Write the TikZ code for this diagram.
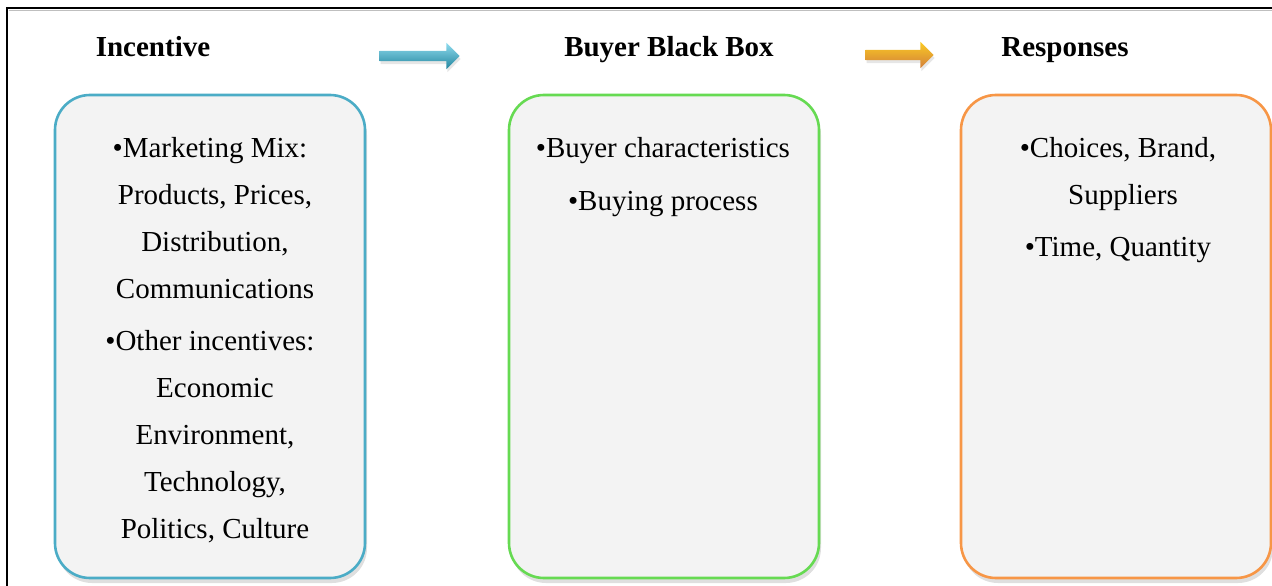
\documentclass[tikz,border=0pt]{standalone}
\usepackage{fontspec}
\setmainfont{Liberation Serif}
\usepackage{tikz}
\usetikzlibrary{shapes.arrows,shadows}

\definecolor{incBlue}{RGB}{75,172,198}
\definecolor{arrBlue}{RGB}{50,190,225}
\definecolor{boxGreen}{RGB}{102,218,82}
\definecolor{resOrange}{RGB}{247,150,70}
\definecolor{boxFill}{RGB}{243,243,243}

\tikzset{
  stagebox/.style={shape=rectangle,rounded corners=35pt,line width=2.6pt,fill=boxFill,
    minimum width=310pt,minimum height=483pt,
    drop shadow={shadow xshift=2pt,shadow yshift=-5pt,opacity=0.25}},
  stagehead/.style={font=\fontsize{29}{35}\selectfont\bfseries,inner sep=0pt,anchor=base},
  stagetext/.style={font=\fontsize{29}{47}\selectfont,align=center,inner sep=0pt,anchor=north},
  blockarrow/.style={shape=single arrow,draw=none,inner sep=5pt,minimum height=#1,
    single arrow head extend=8pt,single arrow tip angle=90},
}
\newcommand{\bul}{\llap{•}}

\begin{document}
\begin{tikzpicture}[x=1pt,y=-1pt]
\useasboundingbox (0,0) rectangle (1272,586);

% frame
\draw[line width=2.6pt] (7,600) -- (7,8) -- (1280,8);
\draw[line width=0.6pt,black!25] (8.5,10.6) -- (1280,10.6);

% headings
\path (153,57) node [stagehead] (incHead) {Incentive};
\path (669,57) node [stagehead] (boxHead) {Buyer Black Box};
\path (1065,57) node [stagehead] (resHead) {Responses};

\path (417,56) node [blockarrow=80pt,top color=arrBlue!55,bottom color=arrBlue!70!black,
  drop shadow={shadow xshift=1pt,shadow yshift=-3pt,opacity=0.2}] (incArrow) {};
\path (897,55) node [blockarrow=68pt,top color=resOrange!50!yellow,bottom color=resOrange!85!black,
  drop shadow={shadow xshift=1pt,shadow yshift=-3pt,opacity=0.2}] (resArrow) {};

% boxes
\path (210,336.5) node [stagebox,draw=incBlue] (incBox) {};
\path (664,336.5) node [stagebox,draw=boxGreen] (blackBox) {};
\path (1116,336.5) node [stagebox,draw=resOrange] (resBox) {};

% box texts
\path (215,137) node [stagetext] (incText) {\bul Marketing Mix:\\ Products, Prices,\\ Distribution,\\ Communications\\[5pt]
  \bul Other incentives:\\ Economic\\ Environment,\\ Technology,\\ Politics, Culture};
\path (668,137) node [stagetext] (boxText) {\bul Buyer characteristics\\[6pt] \bul Buying process};
\path (1123,137) node [stagetext] (resText) {\bul Choices, Brand,\\ Suppliers\\[5pt] \bul Time, Quantity};

\end{tikzpicture}
\end{document}
